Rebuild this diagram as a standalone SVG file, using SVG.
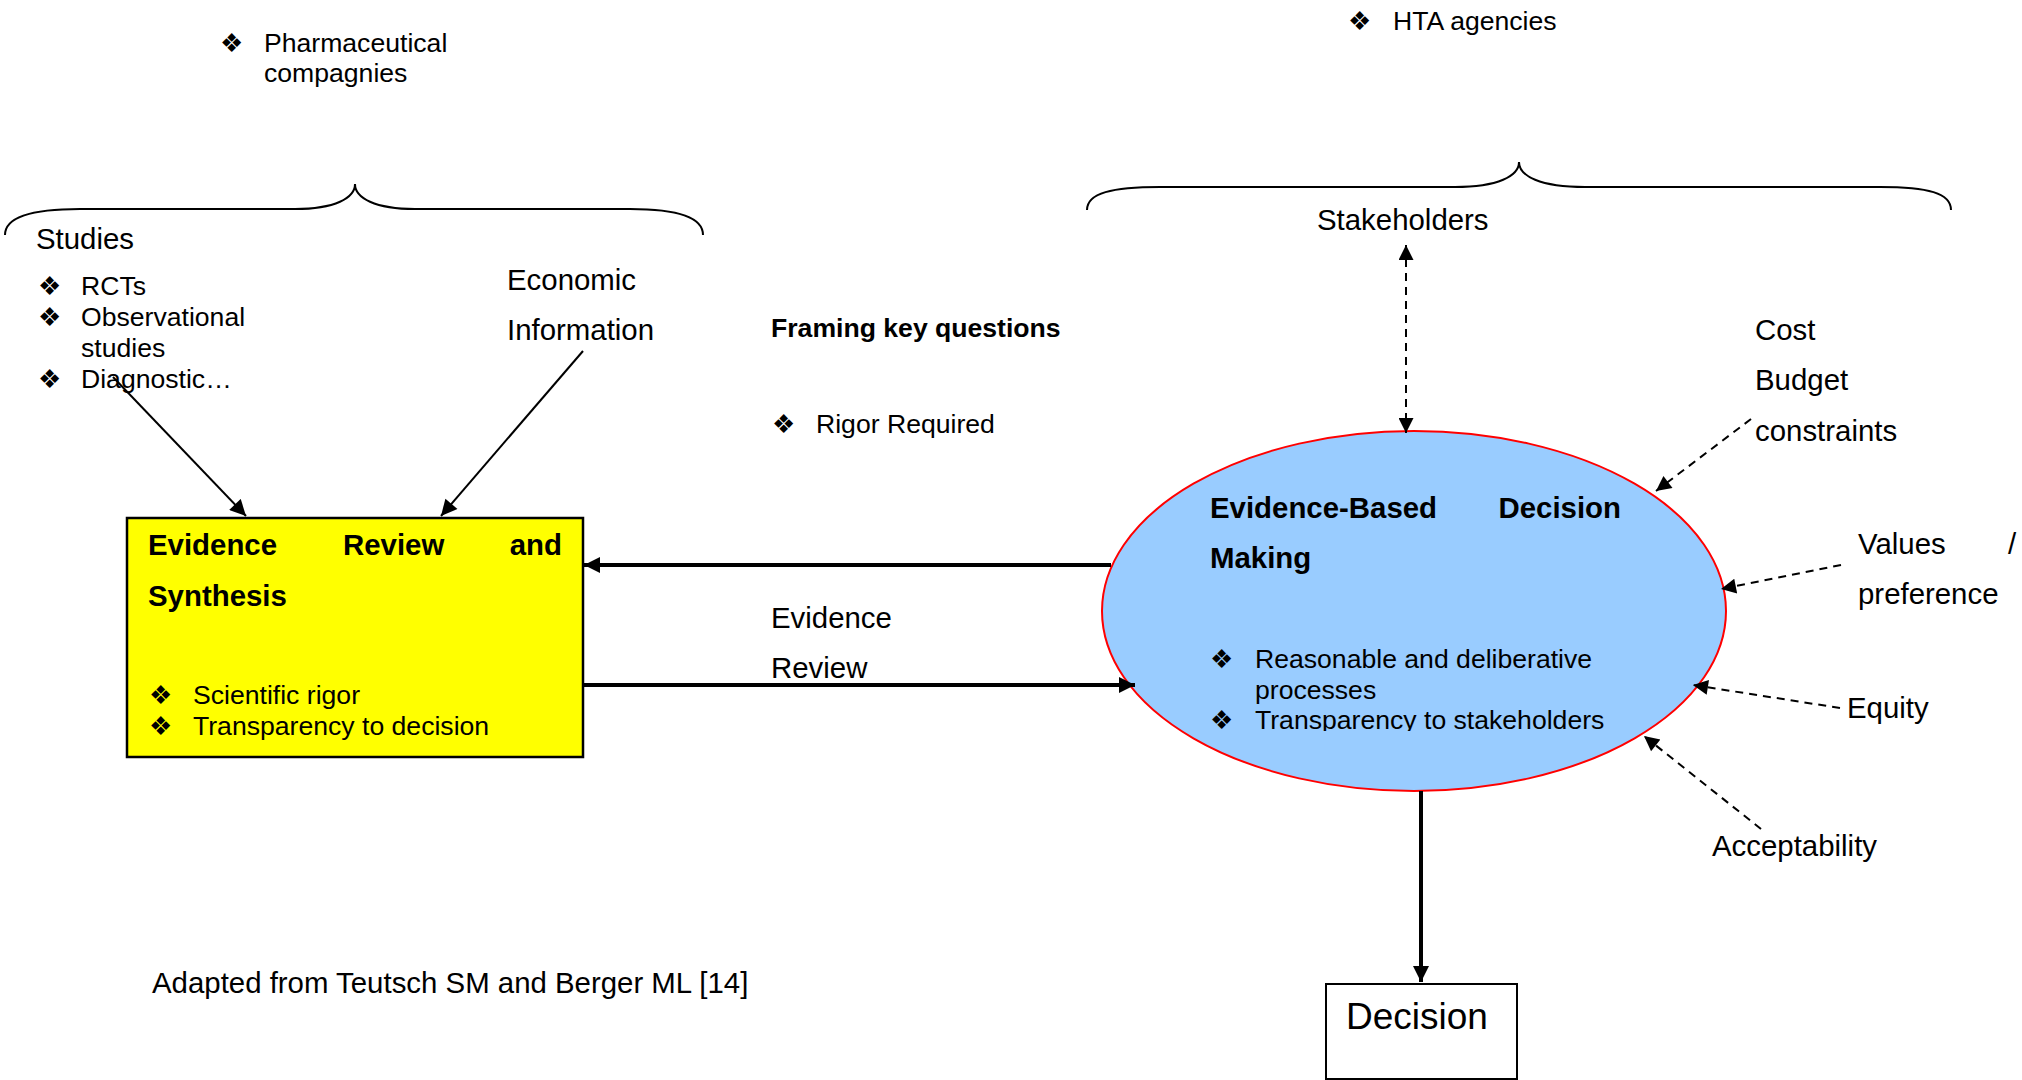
<svg xmlns="http://www.w3.org/2000/svg" width="2022" height="1080" viewBox="0 0 2022 1080">
<style>
text{font-family:"Liberation Sans",Arial,sans-serif;font-size:26.6px;fill:#000}
.p{font-size:29.4px}
.b{font-weight:bold}
.bul{font-family:"DejaVu Sans",sans-serif;font-size:26px}
.thin{stroke:#000;stroke-width:2;fill:none}
.thick{stroke:#000;stroke-width:4;fill:none}
.dash{stroke:#000;stroke-width:2;fill:none;stroke-dasharray:8,6}
.brace{stroke:#000;stroke-width:2;fill:none}
</style>
<defs>
<marker id="ahs" viewBox="0 0 10 10" refX="10" refY="5" markerWidth="18" markerHeight="16" markerUnits="userSpaceOnUse" orient="auto">
<path d="M0,0 L10,5 L0,10 z" fill="#000"/>
</marker>
<marker id="ahm" viewBox="0 0 10 10" refX="10" refY="5" markerWidth="18" markerHeight="15" markerUnits="userSpaceOnUse" orient="auto-start-reverse">
<path d="M0,0 L10,5 L0,10 z" fill="#000"/>
</marker>
<marker id="aht" viewBox="0 0 10 10" refX="10" refY="5" markerWidth="20" markerHeight="16" markerUnits="userSpaceOnUse" orient="auto">
<path d="M0,0 L10,5 L0,10 z" fill="#000"/>
</marker>
<clipPath id="ellclip"><rect x="1100" y="400" width="600" height="331"/></clipPath>
</defs>

<g id="pharma">
<text class="bul" x="220" y="52">❖</text>
<text x="264" y="52">Pharmaceutical</text>
<text x="264" y="82">compagnies</text>
</g>
<g id="hta">
<text class="bul" x="1348" y="30">❖</text>
<text x="1393" y="30">HTA agencies</text>
</g>

<g id="brace-left">
<path class="brace" d="M5,235 C5,216 35,209 80,209 L295,209 C335,209 355,198 355,184 C355,198 375,209 415,209 L630,209 C675,209 703,216 703,235"/>
</g>
<g id="brace-right">
<path class="brace" d="M1087,210 C1087,193 1112,187 1160,187 L1455,187 C1498,187 1519,176 1519,162 C1519,176 1540,187 1585,187 L1880,187 C1928,187 1951,193 1951,210"/>
</g>

<g id="studies">
<text class="p" x="36" y="249">Studies</text>
<text class="bul" x="38" y="295">❖</text>
<text x="81" y="295">RCTs</text>
<text class="bul" x="38" y="326">❖</text>
<text x="81" y="326">Observational</text>
<text x="81" y="357">studies</text>
<text class="bul" x="38" y="388">❖</text>
<text x="81" y="388">Diagnostic…</text>
</g>

<g id="economic">
<text class="p" x="507" y="290">Economic</text>
<text class="p" x="507" y="340">Information</text>
</g>

<g id="framing">
<text class="b" x="771" y="337">Framing key questions</text>
<text class="bul" x="772" y="433">❖</text>
<text x="816" y="433">Rigor Required</text>
</g>

<g id="stakeholders">
<text class="p" x="1317" y="230">Stakeholders</text>
</g>

<g id="cost">
<text class="p" x="1755" y="340">Cost</text>
<text class="p" x="1755" y="390">Budget</text>
<text class="p" x="1755" y="441">constraints</text>
</g>
<g id="values">
<text class="p" x="1858" y="554">Values</text>
<text class="p" x="2008" y="554">/</text>
<text class="p" x="1858" y="604">preference</text>
</g>
<g id="equity"><text class="p" x="1847" y="718">Equity</text></g>
<g id="acceptability"><text class="p" x="1712" y="856">Acceptability</text></g>

<g id="evidence-review-box">
<rect x="127" y="518" width="456" height="239" fill="#FFFF00" stroke="#000" stroke-width="2.5"/>
<text class="b p" x="148" y="555">Evidence</text>
<text class="b p" x="343" y="555">Review</text>
<text class="b p" x="562" y="555" text-anchor="end">and</text>
<text class="b p" x="148" y="606">Synthesis</text>
<text class="bul" x="149" y="704">❖</text>
<text x="193" y="704">Scientific rigor</text>
<text class="bul" x="149" y="735">❖</text>
<text x="193" y="735">Transparency to decision</text>
</g>

<g id="ebdm">
<ellipse cx="1414" cy="611" rx="312" ry="180" fill="#99CCFF" stroke="#FF0000" stroke-width="2"/>
<text class="b p" x="1210" y="518">Evidence-Based</text>
<text class="b p" x="1621" y="518" text-anchor="end">Decision</text>
<text class="b p" x="1210" y="568">Making</text>
<g clip-path="url(#ellclip)">
<text class="bul" x="1210" y="668">❖</text>
<text x="1255" y="668">Reasonable and deliberative</text>
<text x="1255" y="699">processes</text>
<text class="bul" x="1210" y="729">❖</text>
<text x="1255" y="729">Transparency to stakeholders</text>
</g>
</g>

<g id="decision">
<rect x="1326" y="984" width="191" height="95" fill="#fff" stroke="#000" stroke-width="2"/>
<text x="1346" y="1029" style="font-size:37px">Decision</text>
</g>

<g id="edge-labels">
<text class="p" x="771" y="628">Evidence</text>
<text class="p" x="771" y="678">Review</text>
</g>

<g id="source">
<text class="p" x="152" y="993">Adapted from Teutsch SM and Berger ML [14]</text>
</g>

<g id="connectors">
<line class="thin" x1="113" y1="377" x2="246" y2="516" marker-end="url(#ahs)"/>
<line class="thin" x1="583" y1="351" x2="441" y2="516" marker-end="url(#ahs)"/>
<line class="thick" x1="1111" y1="565" x2="584" y2="565" marker-end="url(#aht)"/>
<line class="thick" x1="583" y1="685" x2="1135" y2="685" marker-end="url(#aht)"/>
<line class="thick" x1="1421" y1="791" x2="1421" y2="982" stroke-width="3" marker-end="url(#aht)"/>
<line class="dash" x1="1406" y1="245" x2="1406" y2="433" marker-start="url(#ahm)" marker-end="url(#ahm)"/>
<line class="dash" x1="1751" y1="419" x2="1656" y2="491" marker-end="url(#ahm)"/>
<line class="dash" x1="1841" y1="565" x2="1721" y2="589" marker-end="url(#ahm)"/>
<line class="dash" x1="1840" y1="708" x2="1693" y2="685" marker-end="url(#ahm)"/>
<line class="dash" x1="1761" y1="829" x2="1644" y2="736" marker-end="url(#ahm)"/>
</g>
</svg>
